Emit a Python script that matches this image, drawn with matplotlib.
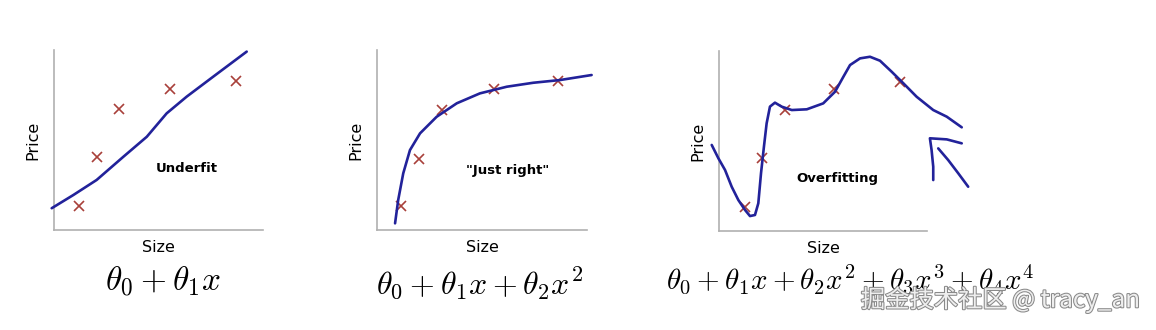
import matplotlib
matplotlib.use('Agg')
import matplotlib.pyplot as plt
import matplotlib.patheffects as pe

plt.rcParams['mathtext.fontset'] = 'cm'

# 데이터 (축 단위 0~10)
under_fit_x = [-0.11, 0.92, 2.04, 3.32, 4.44, 5.39, 6.35, 7.62, 9.22]
under_fit_y = [1.21, 1.94, 2.78, 4.07, 5.18, 6.48, 7.41, 8.52, 9.91]
under_pts_x = [1.21, 2.04, 3.11, 5.55, 8.69]
under_pts_y = [1.35, 4.04, 6.72, 7.82, 8.3]

right_fit_x = [0.86, 1.01, 1.25, 1.57, 2.05, 2.84, 3.80, 4.90, 6.18, 7.44, 8.71, 10.22]
right_fit_y = [0.37, 1.67, 3.15, 4.44, 5.37, 6.29, 7.04, 7.59, 7.96, 8.18, 8.33, 8.61]
right_pts_x = [1.13, 2.01, 3.08, 5.57, 8.63]
right_pts_y = [1.33, 3.94, 6.67, 7.83, 8.3]

over_fit_x = [-0.35, -0.03, 0.29, 0.61, 0.93, 1.25, 1.49, 1.73, 1.89, 2.02, 2.16,
              2.29, 2.45, 2.69, 3.01, 3.50, 4.22, 5.01, 5.58, 5.98, 6.30, 6.78,
              7.26, 7.74, 8.30, 8.86, 9.50, 10.30, 10.95, 11.67]
over_fit_y = [4.78, 4.04, 3.39, 2.46, 1.72, 1.17, 0.83, 0.89, 1.54, 3.21, 4.68,
              5.98, 6.91, 7.13, 6.91, 6.72, 6.76, 7.09, 7.74, 8.57, 9.22, 9.59,
              9.68, 9.46, 8.85, 8.21, 7.46, 6.72, 6.35, 5.76]
over_pts_x = [1.25, 2.05, 3.17, 5.54, 8.70]
over_pts_y = [1.35, 4.04, 6.72, 7.87, 8.29]

# 손으로 그린 화살표
arrow_a_x = [11.67, 10.95, 10.14, 10.22, 10.30, 10.30]
arrow_a_y = [4.87, 5.09, 5.15, 4.5, 3.57, 2.83]
arrow_b_x = [10.54, 11.02, 11.50, 11.98]
arrow_b_y = [4.59, 3.94, 3.21, 2.46]

panels = [
    ('Underfit', r'$\theta_0 + \theta_1 x$', under_fit_x, under_fit_y, under_pts_x, under_pts_y),
    ('"Just right"', r'$\theta_0 + \theta_1 x + \theta_2 x^2$', right_fit_x, right_fit_y, right_pts_x, right_pts_y),
    ('Overfitting', r'$\theta_0 + \theta_1 x + \theta_2 x^2 + \theta_3 x^3 + \theta_4 x^4$',
     over_fit_x, over_fit_y, over_pts_x, over_pts_y),
]

W, H = 1156, 330
# 축 위치 (픽셀): left, top, width, height
boxes = [(54, 50, 209, 180), (377, 50, 210, 180), (719, 51, 208, 180)]
label_pos = [(6.36, 3.44), (6.24, 3.33), (5.67, 2.94)]
formula_pos = [(163, 281), (480, 284), (850, 279)]
formula_size = [24, 23, 21]

LINE = '#22229a'
CROSS = '#a8403a'


def hand_line(ax, x, y):
    ax.plot(x, y, color=LINE, lw=1.9, clip_on=False, solid_joinstyle='round',
            solid_capstyle='round', zorder=3)


fig = plt.figure(figsize=(W / 100, H / 100), dpi=100)

for i, (name, formula, fx, fy, px, py) in enumerate(panels):
    l, t, w, h = boxes[i]
    ax = fig.add_axes([l / W, (H - t - h) / H, w / W, h / H])
    ax.set_xlim(0, 10)
    ax.set_ylim(0, 10)
    for s in ['top', 'right']:
        ax.spines[s].set_visible(False)
    for s in ['left', 'bottom']:
        ax.spines[s].set_color('#b0b0b0')
        ax.spines[s].set_linewidth(1.2)
    ax.set_xticks([]); ax.set_yticks([])
    ax.set_xlabel('Size', fontsize=11.5, labelpad=7)
    ax.set_ylabel('Price', fontsize=11.5, labelpad=10)

    ax.plot(px, py, 'x', color=CROSS, ms=7, mew=1.2, clip_on=False, zorder=2)
    hand_line(ax, fx, fy)
    ax.text(label_pos[i][0], label_pos[i][1], name, ha='center', va='center',
            fontsize=9.5, fontweight='bold')
    if i == 2:
        hand_line(ax, arrow_a_x, arrow_a_y)
        hand_line(ax, arrow_b_x, arrow_b_y)

    fx0, fy0 = formula_pos[i]
    fig.text(fx0 / W, 1 - fy0 / H, formula, ha='center', va='center',
             fontsize=formula_size[i])

fig.text(1140 / W, 1 - 300 / H, '掘金技术社区 @ tracy_an', ha='right', va='center',
         fontsize=17.5, color='#eeeeee', family=['Noto Sans CJK SC', 'DejaVu Sans'],
         path_effects=[pe.withStroke(linewidth=1.5, foreground='#8a8a8a')])

plt.savefig('out.png', dpi=100)
plt.close()
